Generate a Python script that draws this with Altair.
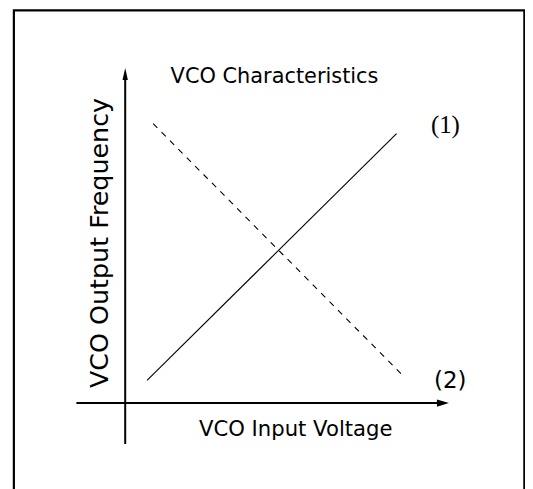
import altair as alt
import pandas as pd

# ---- data (schematic units: axis origin at 0, axis arrows end at 10) ----
line1_x = [0.68, 8.45]
line1_y = [0.68, 8.04]
line2_x = [0.87, 8.70]
line2_y = [8.34, 0.77]

title_text = "VCO Characteristics"
x_label = "VCO Input Voltage"
y_label = "VCO Output Frequency"
label1 = "(1)"
label2 = "(2)"

XDOM = [-3.65, 12.45]
YDOM = [-2.79, 11.75]
W, H = 520, 490

xs = alt.Scale(domain=XDOM, nice=False, zero=False)
ys = alt.Scale(domain=YDOM, nice=False, zero=False)
noax = None

def X(field="x"):
    return alt.X(field, type="quantitative", scale=xs, axis=noax)

def Y(field="y"):
    return alt.Y(field, type="quantitative", scale=ys, axis=noax)

lines = pd.DataFrame({
    "x": line1_x + line2_x,
    "y": line1_y + line2_y,
    "s": ["1", "1", "2", "2"],
})

solid = alt.Chart(lines[lines.s == "1"]).mark_line(color="black", strokeWidth=1.1).encode(
    x=X(), y=Y())
dashed = alt.Chart(lines[lines.s == "2"]).mark_line(
    color="black", strokeWidth=1.1, strokeDash=[6, 6]).encode(x=X(), y=Y())

# axes with arrows
axes = pd.DataFrame({
    "x": [-1.52, 0.0], "x2": [9.75, 0.0],
    "y": [0.0, -1.22], "y2": [0.0, 9.7],
})
axis_lines = alt.Chart(axes).mark_rule(color="black", strokeWidth=2).encode(
    x=X(), x2="x2", y=Y(), y2="y2")

arrow_x = alt.Chart(pd.DataFrame({"x": [10.08], "y": [0.0]})).mark_point(
    shape="M0,0 L-2,-0.6 L-2,0.6 Z", size=144, filled=True, color="black", opacity=1,
    strokeWidth=0).encode(x=X(), y=Y())
arrow_y = alt.Chart(pd.DataFrame({"x": [0.0], "y": [10.0]})).mark_point(
    shape="M0,0 L-0.45,2 L0.45,2 Z", size=144, filled=True, color="black", opacity=1,
    strokeWidth=0).encode(x=X(), y=Y())

# frame
frame = alt.Chart(pd.DataFrame({"x": [-3.467], "x2": [12.43], "y": [11.72], "y2": [-4.0]})).mark_rect(
    fill=None, stroke="black", strokeWidth=2.2).encode(x=X(), x2="x2", y=Y(), y2="y2")

font = "DejaVu Sans"
title_df = pd.DataFrame({"x": [4.65], "y": [9.56], "t": [title_text]})
text_title = alt.Chart(title_df).mark_text(
    font=font, fontSize=21, baseline="alphabetic", align="center", color="black").encode(
    x=X(), y=Y(), text="t:N")
xlab_df = pd.DataFrame({"x": [5.31], "y": [-0.97], "t": [x_label]})
text_xlab = alt.Chart(xlab_df).mark_text(
    font=font, fontSize=21.3, baseline="alphabetic", align="center", color="black").encode(
    x=X(), y=Y(), text="t:N")

ylab = alt.Chart(pd.DataFrame({"x": [-0.78], "y": [4.78], "t": [y_label]})).mark_text(
    font=font, fontSize=25.5, baseline="middle", align="center", angle=270, color="black").encode(
    x=X(), y=Y(), text="t:N")

lab1 = alt.Chart(pd.DataFrame({"x": [9.97], "y": [8.05], "t": [label1]})).mark_text(
    font="Liberation Serif", fontSize=25, baseline="alphabetic", align="center", color="black").encode(
    x=X(), y=Y(), text="t:N")
lab2 = alt.Chart(pd.DataFrame({"x": [10.12], "y": [0.45], "t": [label2]})).mark_text(
    font=font, fontSize=23, baseline="alphabetic", align="center", color="black").encode(
    x=X(), y=Y(), text="t:N")

chart = alt.layer(frame, axis_lines, arrow_x, arrow_y, solid, dashed,
                  text_title, text_xlab, ylab, lab1, lab2).properties(
    width=W, height=H, padding=0,
    autosize=alt.AutoSizeParams(type="none"),
).configure_view(stroke=None)

chart.save("out.html", embed_options={"renderer": "svg", "actions": False})
